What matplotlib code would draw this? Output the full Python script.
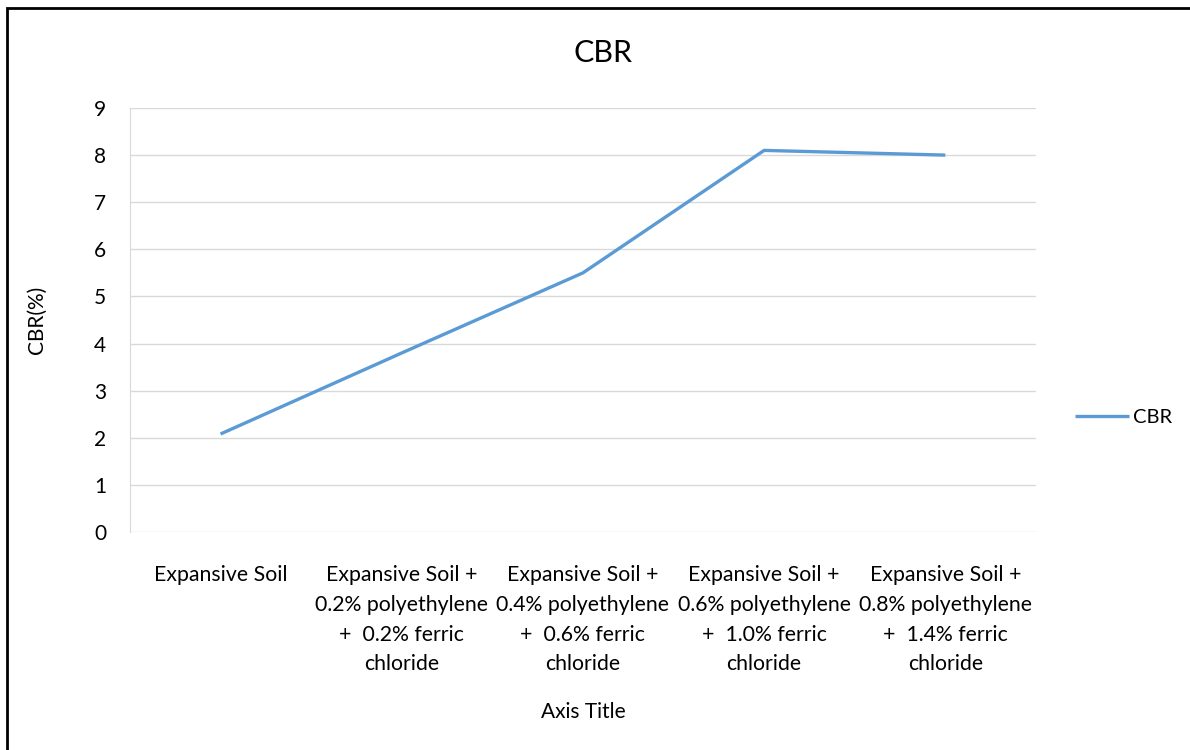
import matplotlib
matplotlib.use("Agg")
import matplotlib.pyplot as plt
from matplotlib.patches import Rectangle

categories = [
    "Expansive Soil",
    "Expansive Soil +\n0.2% polyethylene\n+  0.2% ferric\nchloride",
    "Expansive Soil +\n0.4% polyethylene\n+  0.6% ferric\nchloride",
    "Expansive Soil +\n0.6% polyethylene\n+  1.0% ferric\nchloride",
    "Expansive Soil +\n0.8% polyethylene\n+  1.4% ferric\nchloride",
]
cbr = [2.08, 3.8, 5.5, 8.1, 8.0]
yticks = list(range(0, 10))

plt.rcParams['font.family'] = ['Lato', 'DejaVu Sans']

fig = plt.figure(figsize=(11.9, 7.5), dpi=100)
ax = fig.add_axes([0.1092, 0.2907, 0.7613, 0.5653])

x = list(range(len(categories)))
line, = ax.plot(x, cbr, color='#5B9BD5', linewidth=2.4, label='CBR', solid_capstyle='butt')

ax.set_xlim(-0.5, len(categories) - 0.5)
ax.set_ylim(0, 9)
ax.set_yticks(yticks)
ax.set_xticks(x)
ax.set_xticklabels(categories, fontsize=15.3, linespacing=1.6, va='top')
ax.tick_params(axis='both', length=0, colors='black')
ax.tick_params(axis='y', labelsize=15, pad=17)
ax.tick_params(axis='x', pad=24)
ax.grid(axis='y', color='#d9d9d9', linewidth=1)
ax.set_axisbelow(True)
for s in ['top', 'right', 'bottom']:
    ax.spines[s].set_visible(False)
ax.spines['left'].set_color('#d9d9d9')

fig.text(0.507, 0.93, 'CBR', fontsize=22, ha='center', va='center')
ax.set_ylabel('CBR(%)', fontsize=15, labelpad=34)
fig.text(0.49, 0.05, 'Axis Title', fontsize=15, ha='center', va='center')

fig.legend(handles=[line], loc='center left', bbox_to_anchor=(0.888, 0.443),
           frameon=False, fontsize=14.5, handlelength=2.7, handletextpad=0.2)

# outer frame (left and top edges visible)
fig.patches.append(Rectangle((0.006, -0.01), 1.1, 1.0, transform=fig.transFigure,
                             fill=False, edgecolor='black', linewidth=2))

fig.savefig('out.png', dpi=100)
